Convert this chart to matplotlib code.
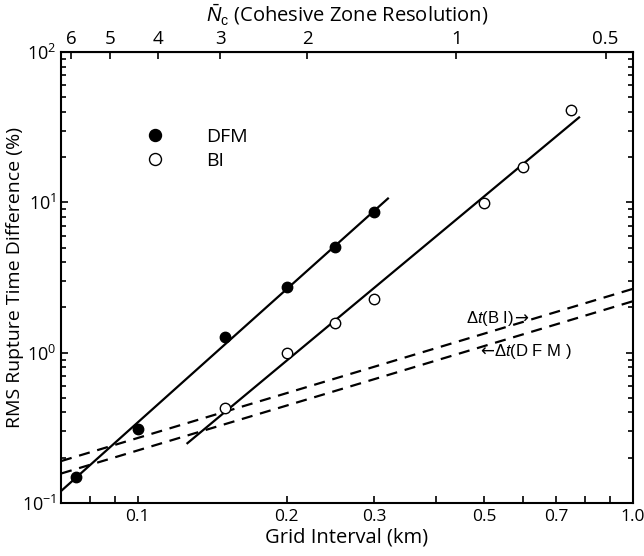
import numpy as np
import matplotlib.pyplot as plt
from matplotlib.ticker import FixedLocator, NullFormatter, LogLocator, NullLocator

plt.rcParams['font.family'] = ['Open Sans', 'DejaVu Sans']
plt.rcParams['mathtext.fontset'] = 'custom'
plt.rcParams['mathtext.rm'] = 'Liberation Sans'
plt.rcParams['mathtext.it'] = 'Liberation Sans:italic'

# measured points
dfm_dx = [0.075, 0.1, 0.15, 0.2, 0.25, 0.3]
dfm_rms = [0.148, 0.31, 1.27, 2.74, 5.07, 8.6]
bi_dx = [0.15, 0.2, 0.25, 0.3, 0.5, 0.6, 0.75]
bi_rms = [0.43, 0.99, 1.58, 2.29, 9.95, 17.2, 41.0]

# fitted lines (end points)
dfm_fit_x = [0.07, 0.32]
dfm_fit_y = [0.12, 10.6]
bi_fit_x = [0.126, 0.778]
bi_fit_y = [0.25, 36.7]

# time step lines
dt_x = [0.07, 1.0]
dt_bi_y = [0.19, 2.66]
dt_dfm_y = [0.157, 2.2]

# cohesive zone resolution  N_c = LAMBDA / dx
LAMBDA = 0.44
nc_ticks = [6, 5, 4, 3, 2, 1, 0.5]
x_ticklabels = [0.1, 0.2, 0.3, 0.5, 0.7, 1.0]

fig = plt.figure(figsize=(6.44, 5.56), dpi=100)
ax = fig.add_axes([0.0947, 0.0953, 0.8883, 0.8112])

ax.plot(dfm_fit_x, dfm_fit_y, 'k-', lw=1.6)
ax.plot(bi_fit_x, bi_fit_y, 'k-', lw=1.6)
ax.plot(dt_x, dt_bi_y, 'k--', lw=1.6, dashes=(5, 3.5))
ax.plot(dt_x, dt_dfm_y, 'k--', lw=1.6, dashes=(5, 3.5))
ax.plot(dfm_dx, dfm_rms, 'o', color='k', ms=7.5, label='DFM', zorder=5)
ax.plot(bi_dx, bi_rms, 'o', mfc='white', mec='k', mew=1.0, ms=7.5, label='BI', zorder=5)

ax.set_xscale('log')
ax.set_yscale('log')
ax.set_xlim(0.07, 1.0)
ax.set_ylim(0.1, 100)

ax.xaxis.set_major_locator(FixedLocator(x_ticklabels))
ax.xaxis.set_major_formatter(plt.FixedFormatter(['0.1', '0.2', '0.3', '0.5', '0.7', '1.0']))
ax.xaxis.set_minor_locator(FixedLocator([0.08, 0.09, 0.4, 0.6, 0.8, 0.9]))
ax.xaxis.set_minor_formatter(NullFormatter())
ax.yaxis.set_minor_locator(LogLocator(base=10, subs=np.arange(2, 10)))
ax.yaxis.set_minor_formatter(NullFormatter())

ax.tick_params(which='both', direction='in', right=True, top=False, width=1.2)
ax.tick_params(which='major', length=5)
ax.tick_params(which='minor', length=3.5)
ax.tick_params(axis='x', which='minor', length=5)
ax.tick_params(axis='x', labelsize=12.5, pad=4)
ax.tick_params(axis='y', labelsize=13, pad=3)
for s in ax.spines.values():
    s.set_linewidth(1.5)

ax.set_xlabel('Grid Interval (km)', fontsize=14.5, labelpad=2)
ax.set_ylabel('RMS Rupture Time Difference (%)', fontsize=14)
ax.yaxis.set_label_coords(-0.064, 0.5)

top = ax.secondary_xaxis('top', functions=(lambda x: LAMBDA / x, lambda n: LAMBDA / n))
top.xaxis.set_major_locator(FixedLocator(nc_ticks))
top.xaxis.set_major_formatter(plt.FixedFormatter(['6', '5', '4', '3', '2', '1', '0.5']))
top.xaxis.set_minor_locator(NullLocator())
top.tick_params(direction='in', length=5, width=1.2, labelsize=13.5, pad=3)
top.set_xlabel(r'$\bar{N}_\mathrm{c}$ (Cohesive Zone Resolution)', fontsize=14.5, labelpad=6)

# time-step labels, arrows drawn in DejaVu Sans (full-width glyph)
t_bi = ax.text(0.708, 0.408, r'$\Delta t$(B I)', transform=ax.transAxes,
               fontsize=12, family='Liberation Sans', va='center', ha='left')
ax.annotate('\u2192', xy=(1.0, 0.5), xycoords=t_bi, va='center', ha='left',
            fontsize=12, family='DejaVu Sans')
arr = ax.text(0.733, 0.335, '\u2190', transform=ax.transAxes,
              fontsize=12, family='DejaVu Sans', va='center', ha='left')
ax.annotate(r'$\Delta t$(D F M )', xy=(1.0, 0.5), xycoords=arr, va='center', ha='left',
            fontsize=12, family='Liberation Sans')

ax.legend(loc='upper left', bbox_to_anchor=(0.1, 0.87), frameon=False, fontsize=14,
          handletextpad=1.6, labelspacing=0.3, markerscale=1.15)

fig.savefig('out.png', dpi=100)
